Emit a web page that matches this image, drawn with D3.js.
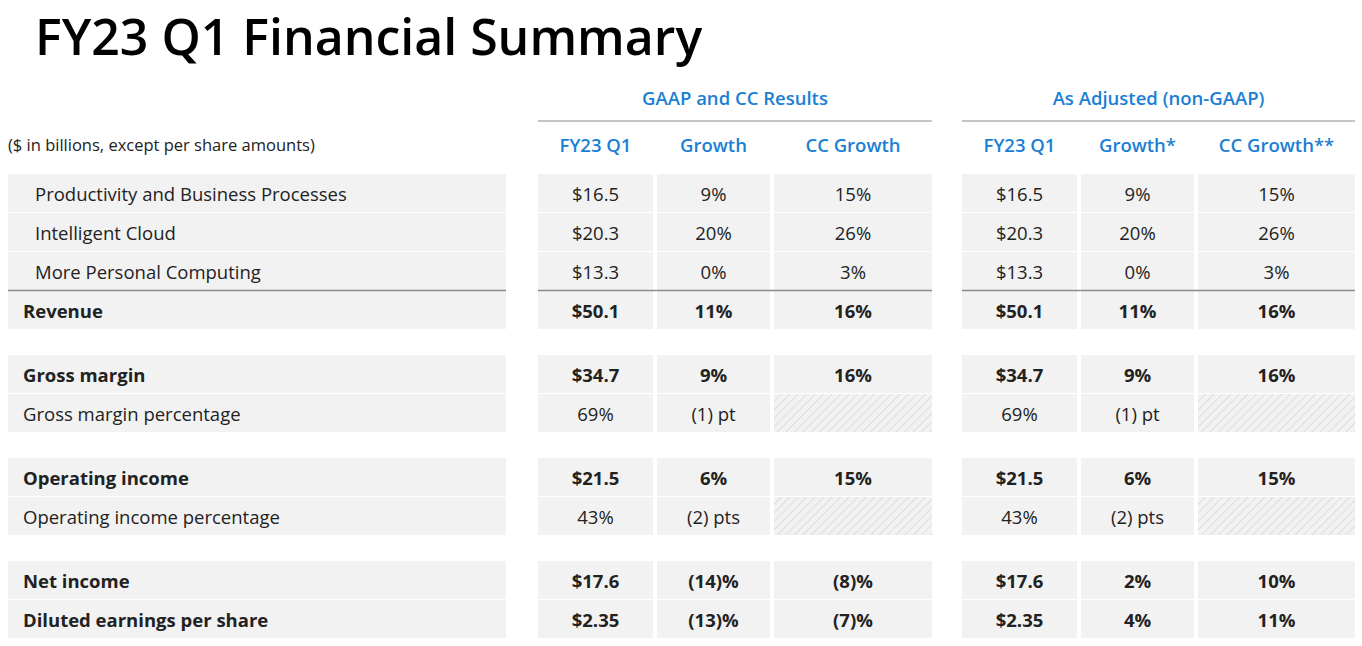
<!DOCTYPE html>
<html><head><meta charset="utf-8">
<script src="https://cdn.jsdelivr.net/npm/d3@7"></script>
<style>body{margin:0;background:#fff}</style>
</head><body>
<svg id="chart" width="1362" height="646"></svg>
<script>
// data
const title = "FY23 Q1 Financial Summary";
const groupTitles = ["GAAP and CC Results", "As Adjusted (non-GAAP)"];
const colHeaders = ["FY23 Q1", "Growth", "CC Growth", "FY23 Q1", "Growth*", "CC Growth**"];
const unitNote = "($ in billions, except per share amounts)";
const rowLabels = ["Productivity and Business Processes", "Intelligent Cloud", "More Personal Computing", "Revenue",
  "Gross margin", "Gross margin percentage", "Operating income", "Operating income percentage",
  "Net income", "Diluted earnings per share"];
const rowBold = [false, false, false, true, true, false, true, false, true, true];
const rowIndent = [true, true, true, false, false, false, false, false, false, false];
const gapBefore = [false, false, false, false, true, false, true, false, true, false];
const gaapValues = [
  ["$16.5", "9%", "15%"], ["$20.3", "20%", "26%"], ["$13.3", "0%", "3%"], ["$50.1", "11%", "16%"],
  ["$34.7", "9%", "16%"], ["69%", "(1) pt", null], ["$21.5", "6%", "15%"], ["43%", "(2) pts", null],
  ["$17.6", "(14)%", "(8)%"], ["$2.35", "(13)%", "(7)%"]];
const adjValues = [
  ["$16.5", "9%", "15%"], ["$20.3", "20%", "26%"], ["$13.3", "0%", "3%"], ["$50.1", "11%", "16%"],
  ["$34.7", "9%", "16%"], ["69%", "(1) pt", null], ["$21.5", "6%", "15%"], ["43%", "(2) pts", null],
  ["$17.6", "2%", "10%"], ["$2.35", "4%", "11%"]];

// layout
const font = "'Open Sans', 'Noto Sans', sans-serif";
const blue = "#1a7fd4";
const rowH = 39, gapH = 25, top0 = 174;
const cols = [[538, 653], [657, 770], [774, 932], [962, 1077], [1081, 1194], [1198, 1355]];
const labelCol = [8, 506];

let acc = top0;
const rowTops = rowLabels.map((d, i) => { if (gapBefore[i]) acc += gapH; const t = acc; acc += rowH; return t; });
const y = d3.scaleOrdinal().domain(d3.range(rowLabels.length)).range(rowTops);

const svg = d3.select("#chart");
const defs = svg.append("defs");
const pat = defs.append("pattern").attr("id", "hatch").attr("patternUnits", "userSpaceOnUse")
  .attr("width", 6).attr("height", 6).attr("patternTransform", "rotate(45)");
pat.append("rect").attr("width", 6).attr("height", 6).attr("fill", "#f2f2f2");
pat.append("line").attr("x1", 0).attr("y1", 0).attr("x2", 0).attr("y2", 6).attr("stroke", "#d6d6d6").attr("stroke-width", 1.5);

svg.append("text").attr("x", 35).attr("y", 55).attr("font-family", font).attr("font-size", 50)
  .attr("font-weight", 600).attr("fill", "#000").text(title);

groupTitles.forEach((g, i) => {
  const a = cols[i * 3][0], b = cols[i * 3 + 2][1];
  svg.append("text").attr("x", (a + b) / 2).attr("y", 105).attr("text-anchor", "middle")
    .attr("font-family", font).attr("font-size", 18.5).attr("font-weight", 600).attr("fill", blue).text(g);
  svg.append("line").attr("x1", a).attr("x2", b).attr("y1", 121).attr("y2", 121).attr("stroke", "#8c8c8c").attr("stroke-width", 1.2);
});
colHeaders.forEach((h, i) => {
  svg.append("text").attr("x", (cols[i][0] + cols[i][1]) / 2).attr("y", 152).attr("text-anchor", "middle")
    .attr("font-family", font).attr("font-size", 18.5).attr("font-weight", 600).attr("fill", blue).text(h);
});
svg.append("text").attr("x", 8).attr("y", 151).attr("font-family", font).attr("font-size", 16.5).attr("fill", "#222").text(unitNote);

const rows = svg.selectAll("g.row").data(rowLabels).join("g").attr("class", "row")
  .attr("transform", (d, i) => `translate(0,${y(i)})`);
rows.append("rect").attr("x", labelCol[0]).attr("width", labelCol[1] - labelCol[0]).attr("height", rowH - 1).attr("fill", "#f2f2f2");
rows.append("text").attr("x", (d, i) => rowIndent[i] ? 35 : 23).attr("y", rowH / 2 + 7)
  .attr("font-family", font).attr("font-size", 18.5).attr("font-weight", (d, i) => rowBold[i] ? 700 : 400)
  .attr("fill", "#222").text(d => d);

rows.each(function (d, i) {
  const g = d3.select(this);
  const vals = gaapValues[i].concat(adjValues[i]);
  vals.forEach((v, j) => {
    g.append("rect").attr("x", cols[j][0]).attr("width", cols[j][1] - cols[j][0]).attr("height", rowH - 1)
      .attr("fill", v === null ? "url(#hatch)" : "#f2f2f2");
    if (v !== null) g.append("text").attr("x", (cols[j][0] + cols[j][1]) / 2).attr("y", rowH / 2 + 7)
      .attr("text-anchor", "middle").attr("font-family", font).attr("font-size", 18.5)
      .attr("font-weight", rowBold[i] ? 700 : 400).attr("fill", "#222").text(v);
  });
});

// divider above Revenue
const ry = y(3) - 0.5;
[[labelCol[0], labelCol[1]], [cols[0][0], cols[2][1]], [cols[3][0], cols[5][1]]].forEach(s => {
  svg.append("line").attr("x1", s[0]).attr("x2", s[1]).attr("y1", ry).attr("y2", ry).attr("stroke", "#8c8c8c").attr("stroke-width", 1.5);
});
</script>
</body></html>
